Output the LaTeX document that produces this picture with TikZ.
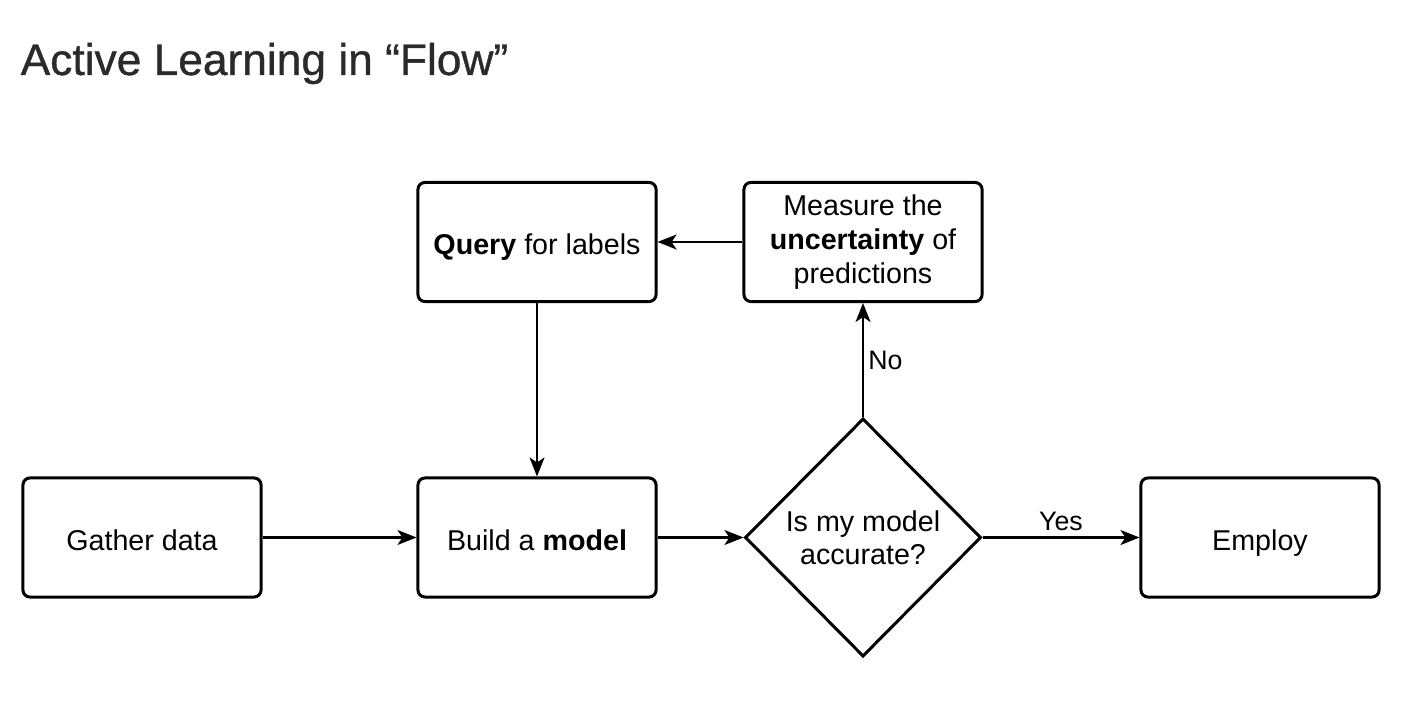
\documentclass[tikz,border=0pt]{standalone}
\usepackage{fontspec}
\setmainfont{Liberation Sans}
\newfontfamily\titlefont[FakeBold=0.8]{Liberation Sans}
\usetikzlibrary{shapes.geometric,arrows.meta}
\definecolor{titlegray}{HTML}{2A2A2A}
\begin{document}
\begin{tikzpicture}[x=0.01cm,y=-0.01cm,
  stepbox/.style={draw,line width=0.85pt,rounded corners=0.07cm,minimum width=2.38cm,minimum height=1.19cm,align=center,font=\fontsize{8.15pt}{9.7pt}\selectfont},
  oneline/.style={text height=0.72em,text depth=0pt},
  decision/.style={draw,diamond,line width=0.85pt,inner sep=0pt,minimum width=2.36cm,minimum height=2.38cm,align=center,font=\fontsize{8.15pt}{9.4pt}\selectfont},
  flow/.style={line width=0.6pt,-{Stealth[length=0.19cm,width=0.15cm,inset=0.05cm]}},
  flowlabel/.style={font=\fontsize{7.6pt}{9pt}\selectfont}]
\useasboundingbox (0,0) rectangle (1404,716);
\node[anchor=base west,text=titlegray,inner sep=0pt,font=\titlefont\fontsize{12.6pt}{15pt}\selectfont] (title) at (20,75) {Active Learning in “Flow”};
\node[stepbox,oneline] (gather) at (142,537.5) {Gather data};
\node[stepbox,oneline] (build) at (537,537.5) {Build a \textbf{model}};
\node[stepbox,oneline] (query) at (537,242) {\textbf{Query} for labels};
\node[stepbox] (measure) at (863,242) {Measure the\\\textbf{uncertainty} of\\predictions};
\node[decision] (accurate) at (863,537.5) {Is my model\\accurate?};
\node[stepbox,oneline] (employ) at (1260,537.5) {Employ};
\draw[flow] (gather) -- (build);
\draw[flow] (build) -- (accurate);
\draw[flow] (accurate) to node[above,inner sep=1.5pt,flowlabel] (yes) {Yes} (employ);
\draw[flow] (accurate) to node[right,inner sep=1.2pt,flowlabel] (no) {No} (measure);
\draw[flow] (measure) -- (query);
\draw[flow] (query) -- (build);
\end{tikzpicture}
\end{document}
